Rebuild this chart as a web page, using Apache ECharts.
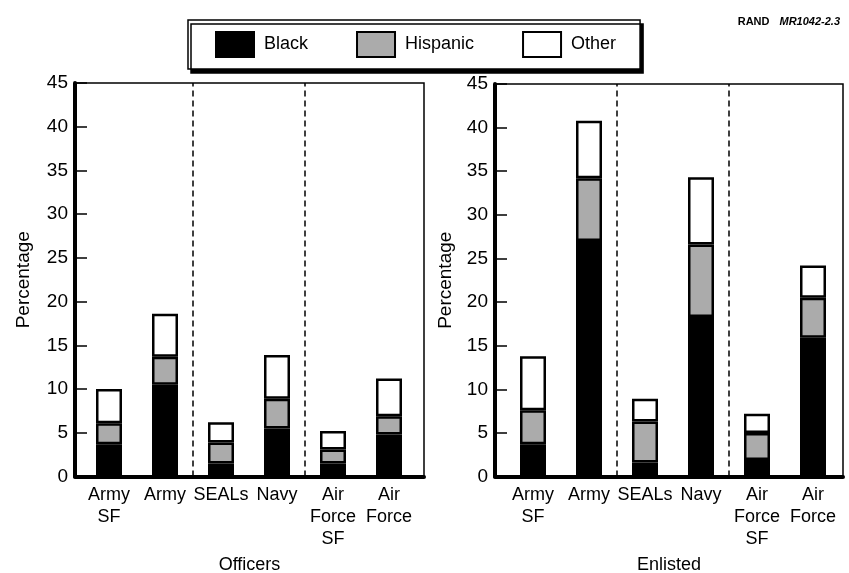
<!DOCTYPE html>
<html>
<head>
<meta charset="utf-8">
<script src="https://cdn.jsdelivr.net/npm/echarts@6/dist/echarts.min.js"></script>
<style>html,body{margin:0;padding:0;background:#fff;}#c{width:849px;height:573px;}</style>
</head>
<body>
<div id="c"></div>
<script>
const categories = ['Army\nSF', 'Army', 'SEALs', 'Navy', 'Air\nForce\nSF', 'Air\nForce'];
const yTicks = [0, 5, 10, 15, 20, 25, 30, 35, 40, 45];
const officersBlack    = [3.7, 10.5, 1.5, 5.5, 1.5, 4.8];
const officersHispanic = [2.4, 3.2, 2.4, 3.4, 1.6, 2.1];
const officersOther    = [3.9, 4.9, 2.3, 5.0, 2.1, 4.3];
const enlistedBlack    = [3.7, 27.0, 1.6, 18.3, 1.9, 15.9];
const enlistedHispanic = [3.9, 7.2, 4.7, 8.3, 3.1, 4.6];
const enlistedOther    = [6.2, 6.6, 2.6, 7.7, 2.2, 3.7];
const groupNames = ['Officers', 'Enlisted'];
const separators = [1.5, 3.5];

const FONT = '"Liberation Sans", Arial, Helvetica, sans-serif';
const chart = echarts.init(document.getElementById('c'), null, {renderer: 'canvas'});

const yMin = yTicks[0], yMax = yTicks[yTicks.length - 1];

// frame axes (grids 0,1): value x axis spanning the frame
function frameX(idx, min, max) {
  return {
    type: 'value', gridIndex: idx, min: min, max: max,
    name: groupNames[idx], nameLocation: 'middle', nameGap: 80,
    nameTextStyle: {fontFamily: FONT, fontSize: 18, color: '#000'},
    axisLine: {show: true, onZero: false, lineStyle: {color: '#000', width: 4}},
    axisTick: {show: false}, axisLabel: {show: false}, splitLine: {show: false}
  };
}
function frameY(idx, gap) {
  return {
    type: 'value', gridIndex: idx, min: yMin, max: yMax, interval: 5,
    name: 'Percentage', nameLocation: 'middle', nameGap: gap, nameRotate: 90,
    nameTextStyle: {fontFamily: FONT, fontSize: 19, color: '#000'},
    axisLine: {show: true, onZero: false, lineStyle: {color: '#000', width: 4}},
    axisTick: {show: true, inside: true, length: 12, lineStyle: {color: '#000', width: 1.5}},
    splitLine: {show: false},
    axisLabel: {fontFamily: FONT, fontSize: 19, color: '#000', margin: 7}
  };
}
// bar axes (grids 2,3)
function barX(idx) {
  return {
    type: 'category', gridIndex: idx, data: categories,
    axisLine: {show: false}, axisTick: {show: false}, splitLine: {show: false},
    axisLabel: {fontFamily: FONT, fontSize: 18, color: '#000', lineHeight: 22, margin: 8, interval: 0}
  };
}
function barY(idx) {
  return {
    type: 'value', gridIndex: idx, min: yMin, max: yMax,
    show: false, splitLine: {show: false}
  };
}
const colors = {Black: '#000', Hispanic: '#ababab', Other: '#fff'};
function barSeries(name, data, axisIdx) {
  return {
    name: name, type: 'bar', stack: 'g' + axisIdx, xAxisIndex: axisIdx, yAxisIndex: axisIdx,
    barWidth: 26, silent: true,
    itemStyle: {color: colors[name], borderColor: '#000', borderWidth: 2.5},
    data: data
  };
}
function sepSeries(axisIdx) {
  return {
    type: 'line', xAxisIndex: axisIdx, yAxisIndex: axisIdx, data: [], silent: true,
    markLine: {
      silent: true, symbol: 'none', label: {show: false},
      lineStyle: {color: '#000', type: [6, 4], width: 1.5},
      data: separators.map(v => ({xAxis: v}))
    }
  };
}
const gridBase = {outerBoundsMode: 'none', containLabel: false};

const option = {
  animation: false,
  backgroundColor: '#fff',
  title: {
    right: 4, top: 8,
    text: '{b|RAND}  {i|MR1042-2.3}',
    textStyle: {rich: {
      b: {fontFamily: FONT, fontSize: 11, fontWeight: 'bold', color: '#000'},
      i: {fontFamily: FONT, fontSize: 11, fontStyle: 'italic', color: '#000'}
    }}
  },
  legend: {
    left: 188, top: 20,
    data: ['Black', 'Hispanic', 'Other'],
    icon: 'rect', itemWidth: 38, itemHeight: 25, itemGap: 48,
    padding: [11, 24, 11, 27],
    backgroundColor: '#fff', borderColor: '#000', borderWidth: 1.5,
    shadowColor: '#000', shadowBlur: 0, shadowOffsetX: 3, shadowOffsetY: 4,
    textStyle: {fontFamily: FONT, fontSize: 18, color: '#000', padding: [0, 0, 0, 5]},
    selectedMode: false
  },
  grid: [
    Object.assign({left: 75, top: 83, width: 349, height: 393.5, show: true, borderColor: '#000', borderWidth: 1.5, backgroundColor: 'transparent'}, gridBase),
    Object.assign({left: 495, top: 84, width: 348, height: 392.5, show: true, borderColor: '#000', borderWidth: 1.5, backgroundColor: 'transparent'}, gridBase),
    Object.assign({left: 81, top: 83, width: 336, height: 393.5}, gridBase),
    Object.assign({left: 505, top: 84, width: 336, height: 392.5}, gridBase)
  ],
  xAxis: [frameX(0, -0.607, 5.625), frameX(1, -0.68, 5.536), barX(2), barX(3)],
  yAxis: [frameY(0, 42), frameY(1, 40), barY(2), barY(3)],
  series: [
    sepSeries(0),
    sepSeries(1),
    barSeries('Black', officersBlack, 2),
    barSeries('Hispanic', officersHispanic, 2),
    barSeries('Other', officersOther, 2),
    barSeries('Black', enlistedBlack, 3),
    barSeries('Hispanic', enlistedHispanic, 3),
    barSeries('Other', enlistedOther, 3)
  ]
};
chart.setOption(option);
</script>
</body>
</html>
